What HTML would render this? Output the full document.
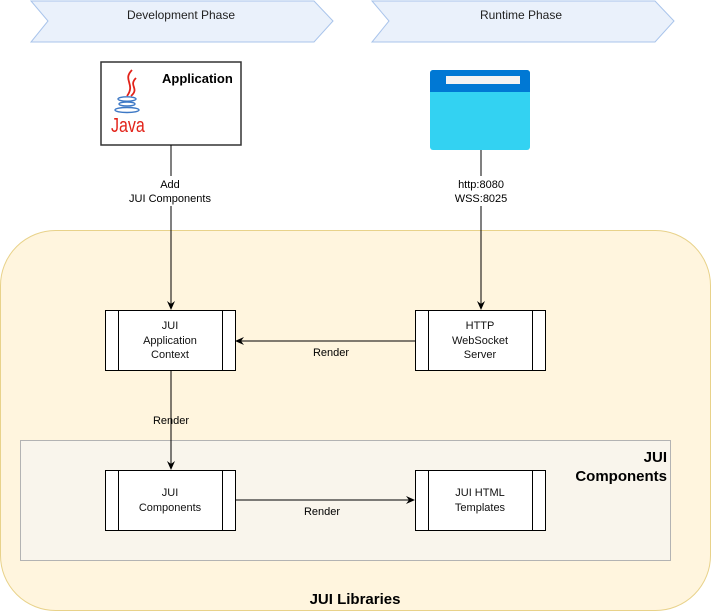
<!DOCTYPE html>
<html><head><meta charset="utf-8"><style>
html,body{margin:0;padding:0;background:#fff;}
svg{display:block;font-family:"Liberation Sans",Arial,sans-serif;}
</style></head><body>
<svg width="711" height="611" viewBox="0 0 711 611" xmlns="http://www.w3.org/2000/svg">
<defs><marker id="a" markerWidth="10" markerHeight="10" refX="8" refY="5" orient="auto" markerUnits="userSpaceOnUse"><path d="M0,1 L9,5 L0,9 L3,5 Z" fill="#000"/></marker></defs>
<path d="M31,1 L314,1 L333,21 L314,42 L31,42 L48,21 Z" fill="#eaf1fb" stroke="#a9c4eb"/>
<text x="181" y="19" font-size="12" text-anchor="middle" fill="#222">Development Phase</text>
<path d="M372,1 L655,1 L674,21 L655,42 L372,42 L389,21 Z" fill="#eaf1fb" stroke="#a9c4eb"/>
<text x="521" y="19" font-size="12" text-anchor="middle" fill="#222">Runtime Phase</text>
<rect x="0.5" y="230.5" width="710" height="380" rx="55" fill="#fff5de" stroke="#e8d28a"/>
<rect x="20.5" y="440.5" width="650" height="120" fill="#f9f5ec" stroke="#b3b3b3"/>
<text x="667" y="462" font-size="15" font-weight="bold" text-anchor="end">JUI</text>
<text x="667" y="481" font-size="15" font-weight="bold" text-anchor="end">Components</text>
<text x="355" y="604" font-size="15" font-weight="bold" text-anchor="middle">JUI Libraries</text>
<rect x="101" y="62" width="140" height="83" fill="#fff" stroke="#333" stroke-width="1.5"/>
<text x="162" y="83" font-size="13" font-weight="bold">Application</text>
<path d="M132,70 C122,80 136,84 127,96 M136,78 C128,86 140,88 131,96" stroke="#e2231a" stroke-width="1.8" fill="none"/>
<ellipse cx="127" cy="99" rx="9" ry="2.2" fill="none" stroke="#3d78c5" stroke-width="1.4"/>
<ellipse cx="127" cy="104" rx="8" ry="2" fill="none" stroke="#3d78c5" stroke-width="1.4"/>
<ellipse cx="127" cy="110" rx="12" ry="2.5" fill="none" stroke="#3d78c5" stroke-width="1.4"/>
<text x="0" y="0" font-size="20" fill="#e2231a" transform="translate(111,132) scale(0.8,1)">Java</text>
<rect x="430" y="70" width="100" height="80" rx="3" fill="#33d2f2"/>
<path d="M430,73 a3,3 0 0 1 3,-3 h94 a3,3 0 0 1 3,3 v19 h-100 Z" fill="#0078d4"/>
<rect x="446" y="76" width="74" height="8" fill="#f2f2f2"/>
<line x1="171" y1="145" x2="171" y2="309" stroke="#000" marker-end="url(#a)"/>
<rect x="125" y="176" width="92" height="30" fill="#fff"/>
<text x="170" y="188" font-size="11" text-anchor="middle">Add</text>
<text x="170" y="202" font-size="11" text-anchor="middle">JUI Components</text>
<line x1="481" y1="150" x2="481" y2="309" stroke="#000" marker-end="url(#a)"/>
<rect x="448" y="176" width="66" height="30" fill="#fff"/>
<text x="481" y="188" font-size="11" text-anchor="middle">http:8080</text>
<text x="481" y="202" font-size="11" text-anchor="middle">WSS:8025</text>
<line x1="415" y1="341" x2="236" y2="341" stroke="#000" marker-end="url(#a)"/>
<text x="331" y="356" font-size="11" text-anchor="middle">Render</text>
<line x1="171" y1="370" x2="171" y2="469" stroke="#000" marker-end="url(#a)"/>
<text x="171" y="424" font-size="11" text-anchor="middle">Render</text>
<line x1="235" y1="500" x2="414" y2="500" stroke="#000" marker-end="url(#a)"/>
<text x="322" y="515" font-size="11" text-anchor="middle">Render</text>
<g fill="#fff" stroke="#000">
<rect x="105.5" y="310.5" width="130" height="60"/><line x1="118.5" y1="310.5" x2="118.5" y2="370.5"/><line x1="222.5" y1="310.5" x2="222.5" y2="370.5"/>
<rect x="415.5" y="310.5" width="130" height="60"/><line x1="428.5" y1="310.5" x2="428.5" y2="370.5"/><line x1="532.5" y1="310.5" x2="532.5" y2="370.5"/>
<rect x="105.5" y="470.5" width="130" height="60"/><line x1="118.5" y1="470.5" x2="118.5" y2="530.5"/><line x1="222.5" y1="470.5" x2="222.5" y2="530.5"/>
<rect x="415.5" y="470.5" width="130" height="60"/><line x1="428.5" y1="470.5" x2="428.5" y2="530.5"/><line x1="532.5" y1="470.5" x2="532.5" y2="530.5"/>
</g>
<g font-size="11" text-anchor="middle" fill="#111">
<text x="170" y="329">JUI</text><text x="170" y="344">Application</text><text x="170" y="358">Context</text>
<text x="480" y="329">HTTP</text><text x="480" y="344">WebSocket</text><text x="480" y="358">Server</text>
<text x="170" y="496">JUI</text><text x="170" y="511">Components</text>
<text x="480" y="496">JUI HTML</text><text x="480" y="511">Templates</text>
</g>
</svg>
</body></html>
